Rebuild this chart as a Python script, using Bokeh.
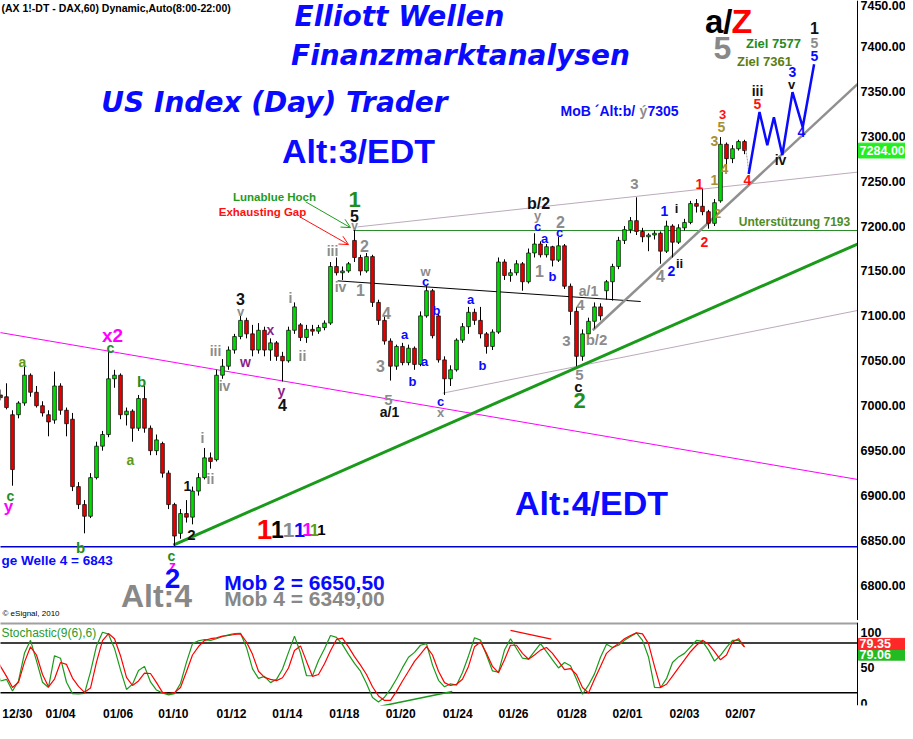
import numpy as np
from bokeh.plotting import figure
from bokeh.layouts import column
from bokeh.models import (Range1d, FixedTicker, Span, Arrow, OpenHead, ColumnDataSource)
from bokeh.core.properties import value
from bokeh.embed import file_html
from bokeh.resources import INLINE

# ---------------- data (hourly DAX future bars) ----------------
opens = [7010, 7012, 7010, 6990, 6990, 7003, 7034, 7015, 7000, 6990,
         6984, 7022, 6995, 6985, 6910, 6890, 6877, 6920, 6955, 6968,
         7030, 7034, 6990, 6994, 6975, 7008, 6975, 6950, 6958, 6925,
         6890, 6858, 6880, 6876, 6905, 6920, 6942, 6940, 7034, 7044,
         7062, 7077, 7095, 7080, 7062, 7084, 7062, 7070, 7055, 7050,
         7084, 7090, 7076, 7085, 7083, 7087, 7092, 7155, 7148, 7150,
         7184, 7165, 7150, 7166, 7115, 7095, 7072, 7044, 7066, 7048,
         7064, 7046, 7100, 7128, 7100, 7051, 7030, 7040, 7073, 7088,
         7104, 7095, 7080, 7066, 7082, 7160, 7145, 7148, 7158, 7138,
         7170, 7180, 7168, 7177, 7162, 7178, 7133, 7105, 7055, 7080,
         7094, 7110, 7128, 7138, 7155, 7184, 7196, 7206, 7194, 7188,
         7190, 7192, 7172, 7200, 7182, 7198, 7204, 7225, 7222, 7216,
         7203, 7228, 7291, 7275, 7286, 7294]
highs = [7016, 7018, 7025, 6995, 7005, 7044, 7036, 7022, 7005, 6995,
         7038, 7025, 6998, 6992, 6915, 6895, 6925, 6960, 6972, 7061,
         7040, 7036, 6998, 6996, 7012, 7022, 6978, 6968, 6960, 6928,
         6892, 6885, 6895, 6910, 6925, 6953, 6948, 7040, 7052, 7066,
         7080, 7101, 7098, 7090, 7092, 7088, 7075, 7072, 7060, 7088,
         7115, 7092, 7090, 7090, 7090, 7095, 7160, 7165, 7155, 7160,
         7197, 7168, 7170, 7168, 7118, 7100, 7075, 7068, 7070, 7068,
         7066, 7105, 7133, 7130, 7103, 7055, 7045, 7075, 7092, 7110,
         7108, 7110, 7082, 7085, 7165, 7163, 7152, 7162, 7160, 7175,
         7192, 7183, 7180, 7178, 7188, 7180, 7136, 7110, 7085, 7098,
         7115, 7114, 7140, 7158, 7188, 7200, 7210, 7232, 7198, 7192,
         7195, 7194, 7206, 7202, 7202, 7208, 7228, 7230, 7241, 7218,
         7230, 7299, 7293, 7290, 7296, 7296]
lows = [7004, 7006, 6996, 6911, 6986, 7000, 7010, 6998, 6988, 6966,
        6980, 6990, 6966, 6905, 6885, 6858, 6875, 6918, 6950, 6965,
        7020, 6985, 6978, 6960, 6972, 6970, 6945, 6945, 6920, 6885,
        6844, 6852, 6870, 6868, 6900, 6918, 6930, 6938, 7030, 7040,
        7058, 7074, 7075, 7055, 7058, 7055, 7050, 7050, 7027, 7048,
        7080, 7072, 7070, 7078, 7080, 7084, 7090, 7145, 7140, 7148,
        7160, 7145, 7148, 7110, 7090, 7068, 7028, 7040, 7045, 7045,
        7040, 7044, 7098, 7075, 7048, 7012, 7022, 7038, 7070, 7080,
        7090, 7075, 7058, 7062, 7080, 7140, 7138, 7145, 7128, 7136,
        7165, 7165, 7165, 7155, 7160, 7130, 7090, 7044, 7050, 7075,
        7086, 7095, 7118, 7117, 7152, 7180, 7192, 7190, 7182, 7172,
        7185, 7158, 7170, 7165, 7180, 7195, 7202, 7215, 7212, 7197,
        7200, 7226, 7262, 7270, 7284, 7280]
closes = [7012, 7009, 6998, 6929, 7003, 7034, 7015, 7000, 6992, 6982,
          7022, 6995, 6980, 6910, 6890, 6877, 6920, 6955, 6968, 7030,
          7034, 6990, 6994, 6975, 7008, 6975, 6950, 6962, 6925, 6890,
          6855, 6880, 6876, 6905, 6920, 6942, 6938, 7034, 7044, 7062,
          7077, 7095, 7080, 7062, 7084, 7062, 7070, 7055, 7050, 7084,
          7110, 7076, 7085, 7083, 7087, 7092, 7155, 7148, 7150, 7158,
          7165, 7150, 7166, 7115, 7095, 7072, 7044, 7066, 7048, 7064,
          7046, 7100, 7128, 7078, 7051, 7030, 7040, 7073, 7088, 7104,
          7095, 7080, 7066, 7082, 7160, 7145, 7148, 7158, 7138, 7170,
          7180, 7168, 7177, 7162, 7178, 7133, 7105, 7055, 7080, 7094,
          7110, 7100, 7138, 7155, 7184, 7196, 7206, 7194, 7188, 7190,
          7192, 7172, 7200, 7182, 7198, 7204, 7225, 7222, 7216, 7203,
          7226, 7291, 7275, 7286, 7294, 7284]

stoch_k = [56.6, 31.5, 33.8, 17.4, 31.5, 70.8, 88.6, 59.8, 29.7, 22.4,
           67.0, 63.5, 29.7, 13.7, 13.2, 14.1, 44.3, 80.8, 100.0, 97.3,
           77.2, 47.0, 19.6, 27.0, 46.1, 52.0, 30.1, 18.7, 14.6, 11.9,
           13.7, 27.9, 58.0, 84.0, 88.0, 89.5, 88.6, 90.9, 94.0, 96.3,
           98.2, 98.6, 78.6, 48.4, 35.2, 37.9, 29.2, 33.8, 48.4, 71.7,
           94.5, 70.8, 38.8, 38.8, 60.3, 76.7, 95.4, 92.7, 82.6, 68.9,
           56.2, 45.2, 27.9, 8.2, 1.8, 8.7, 20.1, 34.2, 50.2, 64.9,
           71.7, 81.7, 84.0, 53.8, 32.4, 23.3, 27.4, 25.6, 43.5, 66.7,
           92.2, 89.0, 68.0, 45.6, 43.8, 74.9, 90.9, 77.2, 63.5, 62.1,
           73.1, 84.0, 72.6, 61.2, 49.8, 57.5, 52.9, 33.8, 12.8, 25.6,
           41.5, 64.8, 83.1, 78.6, 81.7, 88.6, 94.0, 99.1, 88.6, 65.3,
           22.4, 22.0, 34.7, 57.5, 65.3, 70.3, 79.5, 88.6, 87.2, 74.9,
           59.4, 67.6, 78.6, 88.6, 88.6, 79.1]
stoch_d = [68.9, 52.0, 37.9, 22.4, 29.7, 58.0, 79.5, 68.0, 40.6, 23.3,
           34.2, 57.5, 54.8, 35.6, 23.8, 15.5, 21.5, 58.0, 88.1, 98.2,
           90.9, 67.0, 36.5, 25.1, 31.5, 42.5, 42.0, 29.2, 15.5, 13.7,
           15.1, 22.4, 44.7, 68.0, 79.9, 88.6, 90.9, 92.2, 94.5, 95.4,
           96.8, 97.7, 86.3, 68.9, 45.2, 36.5, 33.8, 32.0, 36.0, 49.8,
           74.4, 80.8, 59.0, 37.9, 40.6, 55.7, 74.0, 89.9, 91.8, 79.5,
           65.8, 53.8, 40.6, 23.3, 10.5, 4.1, 4.1, 16.9, 31.5, 45.2,
           59.0, 69.4, 79.9, 68.0, 45.2, 29.2, 25.1, 26.9, 33.8, 52.0,
           79.5, 86.3, 70.3, 52.0, 42.9, 61.2, 81.7, 81.7, 70.3, 62.1,
           68.0, 74.9, 78.6, 70.3, 58.9, 47.5, 48.9, 40.6, 22.4, 14.6,
           33.8, 52.0, 70.3, 78.1, 84.0, 90.9, 95.4, 99.1, 97.7, 84.0,
           52.0, 22.4, 26.9, 38.4, 49.8, 61.2, 72.6, 81.7, 88.6, 83.1,
           72.6, 61.2, 68.0, 86.3, 90.9, 79.4]

price_ticks = [6800, 6850, 6900, 6950, 7000, 7050, 7100, 7150, 7200,
               7250, 7300, 7350, 7400, 7450]
stoch_ticks = [0, 50, 100]
stoch_bands = [85, 15]
date_ticks = [3.8, 11.0, 20.6, 29.8, 39.5, 48.8, 58.3, 67.7, 77.2, 86.5,
              96.2, 105.5, 115.0, 124.3]
date_labels = ["12/30", "01/04", "01/06", "01/10", "01/12", "01/14", "01/18",
               "01/20", "01/24", "01/26", "01/28", "02/01", "02/03", "02/07"]

last_price = 7284.00
last_k = 79.06
last_d = 79.35
support_level = 7195
wave4_level = 6843

# ---------------- layout constants ----------------
BAR_PX = 6.0
FIG_W = 905
FONT = "Liberation Sans"
MAIN_H = 620
PRICE_MIN, PRICE_MAX = 6761, 7451
STOCH_H = 103
STOCH_AXIS_H = 18
STOCH_TOP_B = 2
S_TOP_PAGE = 8 + MAIN_H + STOCH_TOP_B
S_BOT_PAGE = 8 + MAIN_H + STOCH_H - STOCH_AXIS_H
S_MAX = (713 - S_TOP_PAGE) / 0.73
S_MIN = (713 - S_BOT_PAGE) / 0.73 - 3
AXIS_X = (865 - 2) / BAR_PX          # bar-index position of the price scale line
LABEL_X = (868 - 2) / BAR_PX         # where the scale labels start
BADGE_L, BADGE_R = (866 - 2) / BAR_PX, (915 - 2) / BAR_PX

# trend lines as (bar index, price)
magenta_x, magenta_y = [-0.4, AXIS_X], [7083, 6918]
green_trend_x, green_trend_y = [29.8, AXIS_X], [6845, 7180]
black_line_x, black_line_y = [57.2, 107.7], [7139, 7116]
upper_channel_x, upper_channel_y = [60.5, AXIS_X], [7199, 7260]
lower_channel_x, lower_channel_y = [74.7, AXIS_X], [7014, 7106]
gray_trend_x, gray_trend_y = [99.7, AXIS_X], [7084, 7358]
projection_x = [125.7, 127.5, 128.8, 129.9, 131.3, 133.0, 134.7, 136.6]
projection_y = [7258, 7327, 7290, 7321, 7279, 7349, 7310, 7380]
connector_x, connector_y = [125.2, 125.5, 125.7], [7285, 7273, 7258]
stoch_green_trend_x, stoch_green_trend_y = [64.3, 76.3], [-4.1, 16.8]
stoch_red_trend_x, stoch_red_trend_y = [86.0, 92.8], [102.7, 90.4]


def pos(X, Y):
    """reference pixel position -> (bar index, price) for annotation placement"""
    return (X - 2) / BAR_PX, 7450 - (Y - 7) * 650 / 586


def spos(X, Y):
    return (X - 2) / BAR_PX, (713 - Y) / 0.73


x_range = Range1d(1.0, (8 + FIG_W - 2) / BAR_PX)

p = figure(width=FIG_W, height=MAIN_H, x_range=x_range,
           y_range=Range1d(PRICE_MIN, PRICE_MAX),
           output_backend="svg", toolbar_location=None,
           x_axis_location=None, y_axis_location=None,
           min_border_left=0, min_border_right=0, min_border_top=0,
           min_border_bottom=0, outline_line_color=None,
           background_fill_color="white", border_fill_color="white")
p.grid.visible = False

# background reference lines
p.line(magenta_x, magenta_y, line_color="#ff00ff", line_width=1)
p.line(upper_channel_x, upper_channel_y, line_color="#bcaabc", line_width=1)
p.line(lower_channel_x, lower_channel_y, line_color="#bcaabc", line_width=1)
p.line(black_line_x, black_line_y, line_color="black", line_width=1)
p.line([59.8, AXIS_X], [support_level, support_level], line_color="#2a8a2a", line_width=1)
p.line([-1, AXIS_X], [wave4_level, wave4_level], line_color="#0000cc", line_width=1.5)
p.line(green_trend_x, green_trend_y, line_color="#1a9a1a", line_width=3)
p.line(gray_trend_x, gray_trend_y, line_color="#909090", line_width=2.5)

# candles
idx = np.arange(len(closes))
o = np.array(opens)
c = np.array(closes)
src = ColumnDataSource(dict(
    x=idx, top=np.maximum(o, c), bottom=np.minimum(o, c),
    high=highs, low=lows,
    color=["#00dd00" if cc >= oo else "#e60000" for oo, cc in zip(opens, closes)]))
p.segment(x0="x", y0="high", x1="x", y1="low", source=src, line_color="black", line_width=1)
p.vbar(x="x", top="top", bottom="bottom", width=0.62, source=src,
       fill_color="color", line_color="black", line_width=0.7)

p.line(connector_x, connector_y, line_color="#999999", line_width=1, line_dash="2 1")
p.line(projection_x, projection_y, line_color="#0a0aff", line_width=2.5)

# arrows
for (x0, y0, x1, y1, col) in [(313, 208, 358, 234, "#1f9a1f"), (307, 223, 356, 251, "#ff1010")]:
    a0 = pos(x0, y0)
    a1 = pos(x1, y1)
    p.add_layout(Arrow(end=OpenHead(size=9, line_color=col, line_width=1),
                       x_start=a0[0], y_start=a0[1], x_end=a1[0], y_end=a1[1],
                       line_color=col, line_width=1))


def txt(fig, X, Y, text, color, size, style="bold", font=FONT, align="center",
        baseline="middle", conv=pos):
    x, y = conv(X, Y)
    fig.text(x=[x], y=[y], text=[text], text_color=color, text_font_size=f"{size}px",
             text_font=value(font), text_font_style=style, text_align=align,
             text_baseline=baseline)


def price_scale(fig, ticks, fmt, badges, badge_h, y_top):
    """vertical scale at the right edge: line, labels and value badges"""
    fig.add_layout(Span(location=AXIS_X, dimension="height", line_color="black", line_width=1))
    inner = [t for t in ticks if t < y_top]
    edge = [t for t in ticks if t >= y_top]
    for group, base in ((inner, "middle"), (edge, "top")):
        if not group:
            continue
        fig.text(x=[LABEL_X] * len(group), y=group, text=[fmt(t) for t in group],
                 text_color="black", text_font_size="12.5px", text_font=value(FONT),
                 text_font_style="bold", text_align="left", text_baseline=base)
    for v, label, bg in badges:
        fig.quad(left=[BADGE_L], right=[BADGE_R], bottom=[v - badge_h / 2],
                 top=[v + badge_h / 2], fill_color=bg, line_color=bg)
        fig.text(x=[LABEL_X - 0.15], y=[v], text=[label], text_color="white",
                 text_font_size="12.5px", text_font=value(FONT), text_font_style="bold",
                 text_align="left", text_baseline="middle")


BLUE = "#0a0aff"
GRAY = "#8c8c8c"
BLK = "#111111"
RED = "#ff1010"
GRN = "#1f8f1f"
GOLD = "#a89032"
PURP = "#8a1f8a"
MAG = "#ff00ff"
OLIVE = "#5e9a12"

# titles
txt(p, 9, 14, "(AX 1!-DT - DAX,60) Dynamic,Auto(8:00-22:00)", "black", 10.5, align="left")
txt(p, 407, 22, "Elliott Wellen", BLUE, 28, style="bold italic", font="DejaVu Sans")
txt(p, 468, 61, "Finanzmarktanalysen", BLUE, 28, style="bold italic", font="DejaVu Sans")
txt(p, 282, 108, "US Index (Day) Trader", BLUE, 28, style="bold italic", font="DejaVu Sans")
txt(p, 366, 157, "Alt:3/EDT", BLUE, 34)
txt(p, 599, 510, "Alt:4/EDT", BLUE, 34)
txt(p, 164, 604, "Alt:4", "#888888", 32)
txt(p, 740, 27, "a/", "black", 33, align="right")
txt(p, 739, 27, "Z", "#ff0000", 34, align="left")
txt(p, 730, 54, "5", "#888888", 32)
txt(p, 781, 49, "Ziel 7577", "#228b22", 13)
txt(p, 772, 67, "Ziel 7361", "#5a7d12", 13)
txt(p, 568, 117, "MoB \u00b4Alt:b/", BLUE, 14, align="left")
txt(p, 647, 117, "\u00fd", GRAY, 14, align="left")
txt(p, 655, 117, "7305", BLUE, 14, align="left")
txt(p, 282, 203, "Lunablue Hoch", "#1f9a1f", 11.5)
txt(p, 270, 218, "Exhausting Gap", RED, 11.5)
txt(p, 802, 228, "Unterst\u00fctzung 7193", "#4f8c1e", 12)
txt(p, 9, 568, "ge Welle 4 = 6843", BLUE, 13.5, align="left")
txt(p, 312, 606, "Mob 4 = 6349,00", "#888888", 21)
txt(p, 312, 590, "Mob 2 = 6650,50", BLUE, 21)
txt(p, 10, 621, "\u00a9 eSignal, 2010", "black", 8, style="normal", align="left")

# the row of ones
for X, text_col, size in [(272, "#ff0000", 28), (285, "black", 23), (296, GRAY, 21),
                          (307, BLUE, 20), (315, MAG, 19), (322, OLIVE, 16), (329, "black", 15)]:
    txt(p, X, 537, "1", text_col, size, baseline="alphabetic")

wave_labels = [
    (30, 369, "a", OLIVE, 14), (18, 503, "c", GRN, 14), (16, 514, "y", MAG, 17),
    (88, 555, "b", GRN, 15), (120, 342, "x2", MAG, 19), (118, 355, "c", GRN, 14),
    (149, 388, "b", GRN, 15), (138, 467, "a", OLIVE, 14),
    (210, 445, "i", GRAY, 14), (218, 486, "ii", GRAY, 14),
    (195, 493, "1", BLK, 14), (199, 542, "2", BLK, 15),
    (179, 563, "c", GRN, 14), (180, 573, "z", MAG, 14), (180, 586, "2", BLUE, 28),
    (223, 358, "iii", GRAY, 14), (232, 393, "iv", GRAY, 14),
    (248, 306, "3", BLK, 16), (248, 318, "v", GRAY, 13),
    (253, 369, "w", PURP, 14), (278, 337, "x", PURP, 14), (289, 398, "y", PURP, 14),
    (290, 412, "4", BLK, 16), (298, 305, "i", GRAY, 14), (310, 363, "ii", GRAY, 14),
    (340, 257, "iii", GRAY, 14), (348, 294, "iv", GRAY, 14),
    (362, 206, "1", GRN, 22), (362, 222, "5", BLK, 16), (362, 232, "v", GRAY, 12),
    (372, 252, "2", GRAY, 16), (368, 297, "1", GRAY, 16),
    (394, 320, "4", GRAY, 16), (388, 373, "3", GRAY, 16), (396, 407, "5", GRAY, 15),
    (397, 419, "a/1", BLK, 14),
    (412, 341, "a", BLUE, 13), (420, 388, "b", BLUE, 13), (432, 368, "a", BLUE, 13),
    (444, 317, "b", BLUE, 13), (433, 278, "w", GRAY, 13), (433, 288, "c", BLUE, 13),
    (448, 408, "c", BLUE, 13), (448, 419, "x", GRAY, 13),
    (478, 306, "a", BLUE, 13), (490, 372, "b", BLUE, 13),
    (546, 210, "b/2", BLK, 16), (545, 222, "y", GRAY, 13), (545, 233, "c", BLUE, 13),
    (552, 245, "a", BLUE, 13), (568, 228, "2", GRAY, 16), (567, 239, "c", BLUE, 13),
    (547, 277, "1", GRAY, 16), (560, 283, "b", BLUE, 13),
    (596, 298, "a/1", GRAY, 14), (588, 312, "4", GRAY, 15), (574, 348, "3", GRAY, 15),
    (604, 346, "b/2", GRAY, 15), (587, 382, "5", GRAY, 15), (586, 393, "c", BLK, 15),
    (587, 407, "2", GRN, 22),
    (642, 190, "3", GRAY, 15), (668, 283, "4", GRAY, 16), (679, 277, "2", BLUE, 14),
    (687, 270, "ii", BLK, 13), (672, 217, "1", BLUE, 14), (684, 215, "i", BLK, 13),
    (707, 190, "1", RED, 14), (712, 248, "2", RED, 14),
    (722, 186, "1", GOLD, 14), (725, 220, "2", GOLD, 13),
    (730, 120, "3", RED, 13), (729, 133, "5", GOLD, 14), (722, 147, "3", GOLD, 14),
    (732, 175, "4", GOLD, 14), (755, 186, "4", RED, 14),
    (765, 97, "iii", BLK, 14), (765, 110, "5", RED, 14),
    (788, 166, "iv", BLK, 14), (809, 138, "4", BLUE, 14),
    (800, 78, "3", BLUE, 14), (799, 90, "v", BLK, 13),
    (822, 34, "1", BLK, 16), (822, 49, "5", GRAY, 14), (822, 62, "5", BLUE, 14),
]
for X, Y, t, col, size in wave_labels:
    txt(p, X, Y, t, col, size)

price_scale(p, price_ticks, lambda t: f"{t:.2f}",
            [(last_price, f"{last_price:.2f}", "#22ee22")], badge_h=16.5,
            y_top=PRICE_MAX - 6)

# ---------------- stochastic panel ----------------
s = figure(width=FIG_W, height=STOCH_H, x_range=x_range, y_range=Range1d(S_MIN, S_MAX),
           output_backend="svg", toolbar_location=None,
           x_axis_location="below", y_axis_location=None,
           min_border_left=0, min_border_right=0, min_border_top=STOCH_TOP_B,
           min_border_bottom=STOCH_AXIS_H, outline_line_color=None,
           background_fill_color="white", border_fill_color="white")
s.grid.visible = False
sx = s.xaxis[0]
sx.ticker = FixedTicker(ticks=date_ticks)
sx.major_label_overrides = {t: l for t, l in zip(date_ticks, date_labels)}
sx.major_label_text_font = FONT
sx.major_label_text_font_style = "bold"
sx.major_label_text_font_size = "12px"
sx.major_label_text_color = "black"
sx.major_label_standoff = 1
sx.axis_label_standoff = 0
sx.major_tick_out = 0
sx.major_tick_in = 0
sx.minor_tick_out = 0
sx.minor_tick_in = 0
sx.axis_line_color = None

s.line([-1, AXIS_X], [S_MAX - 0.8, S_MAX - 0.8], line_color="#a0a0a0", line_width=3)
for lvl in stoch_bands:
    s.line([-1, AXIS_X], [lvl, lvl], line_color="black", line_width=1.5)
s.line(idx, stoch_k, line_color="#1a9a1a", line_width=1.2)
s.line(idx, stoch_d, line_color="#ff0000", line_width=1.2)
s.line(stoch_green_trend_x, stoch_green_trend_y, line_color="#1a9a1a", line_width=1.5)
s.line(stoch_red_trend_x, stoch_red_trend_y, line_color="#ff0000", line_width=1.2)
txt(s, 9, 641, "Stochastic(9(6),6)", "#2a9a2a", 12, style="normal", align="left", conv=spos)

price_scale(s, stoch_ticks, lambda t: f"{t:d}",
            [(68.5, f"{last_k:.2f}", "#22bb22"), (83.6, f"{last_d:.2f}", "#ff2828")],
            badge_h=15.5, y_top=S_MAX - 8)

layout = column(p, s, spacing=0)
open("out.html", "w").write(file_html(layout, INLINE, title="DAX Elliott"))
